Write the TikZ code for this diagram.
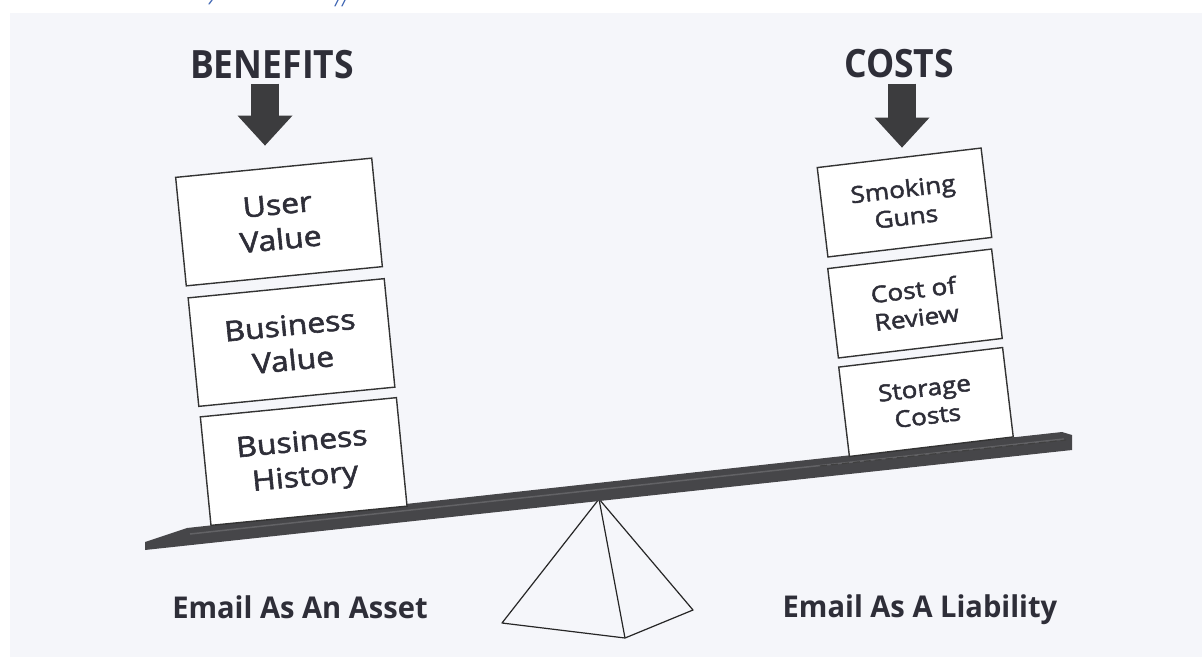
\documentclass[tikz,border=0pt]{standalone}
\usepackage{fontspec}
\newfontfamily\headfont[FakeStretch=0.91]{Open Sans}
\newfontfamily\capfont[FakeStretch=0.97]{Open Sans}
\newfontfamily\boxfont[FakeStretch=1.14,FakeBold=2]{Open Sans}
\usetikzlibrary{arrows.meta}
\definecolor{bgcol}{HTML}{F5F6FA}
\definecolor{txtcol}{HTML}{2E2E38}
\definecolor{beamcol}{HTML}{464649}
\definecolor{beamhi}{HTML}{626265}
\definecolor{arrowcol}{HTML}{3C3C3E}
\definecolor{inkblue}{HTML}{4A6FB8}
\begin{document}
\begin{tikzpicture}[x=1pt,y=-1pt,
  heading/.style={font=\headfont\bfseries\fontsize{39}{39}\selectfont, text=txtcol, inner sep=0pt, anchor=base},
  caption/.style={font=\capfont\bfseries\fontsize{30}{30}\selectfont, text=txtcol, inner sep=0pt, anchor=base},
  stackbox/.style={draw=black!80, line width=1.4pt, fill=white, align=center, text=txtcol, inner sep=0pt},
  lbox/.style={stackbox, minimum width=197pt, minimum height=109pt, rotate=5.6, font=\boxfont\fontsize{28}{35}\selectfont},
  rbox/.style={stackbox, minimum width=165pt, minimum height=90pt, rotate=6.8, font=\boxfont\fontsize{23}{28}\selectfont},
  fatarrow/.style={draw=arrowcol, line width=28pt, -{Triangle[width=55pt,length=30pt,line width=0pt]}},
  support/.style={draw=black!85, line width=1.2pt, line join=round}
]
% background and margins
\fill[white] (0,0) rectangle (1203,657);
\fill[bgcol] (10,13) rectangle (1202,657);
\useasboundingbox (0,0) rectangle (1203,657);

% cut-off blue ink at the top edge
\draw[inkblue, line width=1.3pt, line cap=round] (212,0) -- (209,4);
\draw[inkblue, line width=1.3pt, line cap=round] (338,0) -- (335,6);
\draw[inkblue, line width=1.3pt, line cap=round] (345,0) -- (342,6);

% fulcrum (pyramid)
\coordinate (apex) at (599,499);
\coordinate (bl) at (502,623);
\coordinate (bf) at (625,638);
\coordinate (br) at (693,610);
\draw[support] (bl) -- (apex) -- (br) -- (bf) -- cycle;
\draw[support] (apex) -- (bf);

% beam
\fill[beamcol] (145,542) -- (187,528) -- (1062,432) -- (1072,435) -- (1072,450) -- (145,550) -- cycle;
\draw[beamhi, line width=1.5pt] (190,534) -- (1064,439);
\draw[black!75, line width=1.2pt, dash pattern=on 7pt off 4pt] (820,466) -- (1066,440);

% stacked boxes
\node[lbox] (uv) at (279,222) {User\\Value};
\node[lbox] (bv) at (291.5,342.5) {Business\\Value};
\node[lbox] (bh) at (303.7,461.5) {Business\\History};
\node[rbox] (sg) at (904.5,202.5) {Smoking\\Guns};
\node[rbox] (cr) at (915,303.5) {Cost of\\Review};
\node[rbox] (sc) at (926,402) {Storage\\Costs};

% headings and arrows
\node[heading] (benefits) at (272,78) {BENEFITS};
\node[heading] (costs) at (899,77) {COSTS};
\draw[fatarrow] ([xshift=-7pt,yshift=-5pt]benefits.south) -- ([xshift=-7pt,yshift=-67pt]benefits.south);
\draw[fatarrow] ([xshift=3pt,yshift=-6pt]costs.south) -- ([xshift=3pt,yshift=-70pt]costs.south);

% captions
\node[caption] (asset) at (300,618) {Email As An Asset};
\node[caption] (liab) at (920,617) {Email As A Liability};
\end{tikzpicture}
\end{document}
